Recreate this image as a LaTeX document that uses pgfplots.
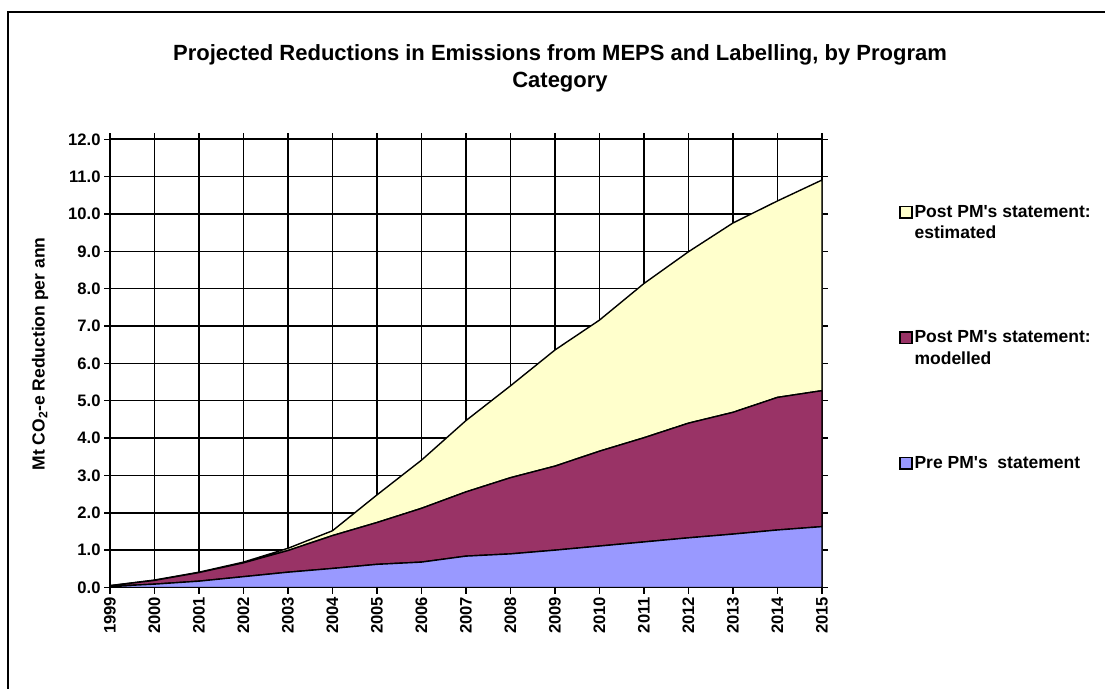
\documentclass[border=0pt]{standalone}
\usepackage{fontspec}
\setmainfont{Liberation Sans}
\usepackage{pgfplots}
\usepackage{pgfplotstable}
\pgfplotsset{compat=1.18}

\definecolor{preCol}{HTML}{9999FF}
\definecolor{modCol}{HTML}{993366}
\definecolor{estCol}{HTML}{FFFFCC}

% Annual reductions (Mt CO2-e) by program category; each column is the
% contribution of its category, stacked in the chart.
\pgfplotstableread{
year  pre   modelled  estimated
1999  0.03  0.02      0.00
2000  0.09  0.10      0.01
2001  0.17  0.23      0.01
2002  0.29  0.37      0.02
2003  0.41  0.58      0.06
2004  0.51  0.88      0.13
2005  0.62  1.12      0.74
2006  0.68  1.44      1.29
2007  0.84  1.72      1.91
2008  0.90  2.04      2.46
2009  1.00  2.25      3.11
2010  1.11  2.54      3.51
2011  1.22  2.79      4.13
2012  1.33  3.07      4.59
2013  1.43  3.26      5.07
2014  1.54  3.55      5.26
2015  1.63  3.64      5.64
}\reductions

\newcommand{\q}{\textquotesingle}

\begin{document}
\begin{tikzpicture}[x=1pt,y=1pt]
\path[use as bounding box] (0,0) rectangle (1105,688);
\draw[line width=1.5pt] (8,-20) rectangle (1130,676);

\node[align=center, font=\bfseries\fontsize{22}{27}\selectfont] at (560,619.5)
  {Projected Reductions in Emissions from MEPS and Labelling, by Program\\Category};

\begin{axis}[
  at={(110pt,100.5pt)}, anchor=south west,
  scale only axis, width=712pt, height=448.2pt,
  xmin=1999, xmax=2015, ymin=0, ymax=12,
  xtick={1999,2000,...,2015}, ytick={0,1,...,12},
  grid=major,
  major grid style={black, line width=1.5pt},
  axis line style={black, line width=1.6pt},
  tick align=outside, major tick length=6pt,
  tick style={black, line width=1.5pt},
  /pgf/number format/assume math mode=true,
  xticklabel style={rotate=90, anchor=east, font=\bfseries\fontsize{16.6}{18}\selectfont,
    /pgf/number format/1000 sep={}},
  yticklabel style={font=\bfseries\fontsize{16.6}{18}\selectfont,
    /pgf/number format/.cd, fixed, fixed zerofill, precision=1},
  ylabel={Mt CO\textsubscript{2}-e Reduction per ann},
  ylabel style={at={(axis description cs:-0.098,0.521)}, anchor=center,
    font=\bfseries\fontsize{17.5}{20}\selectfont},
  stack plots=y,
  reverse legend,
  legend image code/.code={\draw[#1, line width=1.3pt] (0pt,-0.5pt) rectangle (12pt,11pt);},
  legend style={at={(axis description cs:1.104,0.862)}, anchor=north west,
    draw=none, fill=none, row sep=108pt, column sep=0pt,
    font=\bfseries\fontsize{17.5}{21.5}\selectfont,
    cells={anchor=base west}, nodes={inner sep=2pt}},
]
\addplot[fill=preCol, draw=black, line width=1.4pt] table[x=year, y=pre] {\reductions} \closedcycle;
\addlegendentry{\parbox[t]{190pt}{Pre PM\q s\ \ statement}}
\addplot[fill=modCol, draw=black, line width=1.4pt] table[x=year, y=modelled] {\reductions} \closedcycle;
\addlegendentry{\parbox[t]{190pt}{Post PM\q s statement:\\modelled}}
\addplot[fill=estCol, draw=black, line width=1.4pt] table[x=year, y=estimated] {\reductions} \closedcycle;
\addlegendentry{\parbox[t]{190pt}{Post PM\q s statement:\\estimated}}
\end{axis}
\end{tikzpicture}
\end{document}
